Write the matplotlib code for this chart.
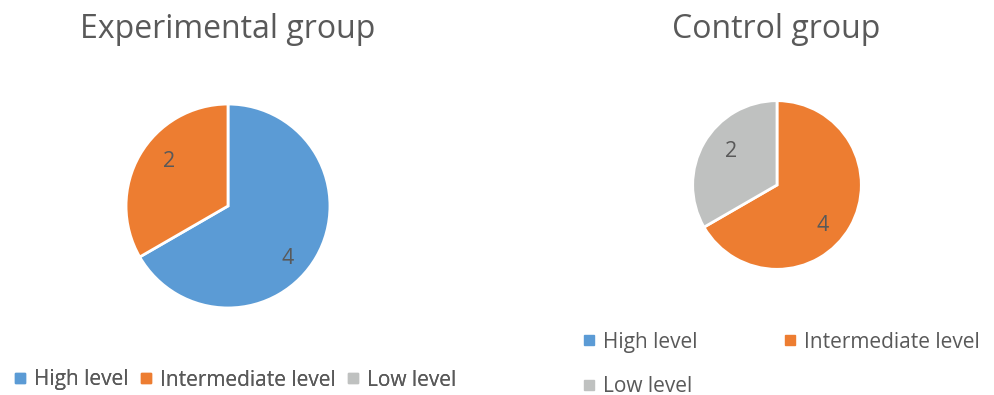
import numpy as np
import matplotlib.pyplot as plt
from matplotlib.lines import Line2D

# Datos
levels = ['High level', 'Intermediate level', 'Low level']
colors = ['#5B9BD5', '#ED7D31', '#BFC1C0']
experimental = [4, 2, 0]
control = [0, 4, 2]

TEXT = '#595959'
FONT = 'Open Sans'
plt.rcParams['font.family'] = [FONT, 'DejaVu Sans']

W, H = 994, 395
fig = plt.figure(figsize=(W / 100, H / 100), dpi=100)


def pie_axes(cx, cy, r):
    # cx, cy, r en pixeles (origen arriba a la izquierda)
    return fig.add_axes([(cx - r) / W, (H - cy - r) / H, 2 * r / W, 2 * r / H])


def draw_pie(ax, values, pctdist, shift=-9):
    vals = [v for v in values if v > 0]
    cols = [c for v, c in zip(values, colors) if v > 0]
    wedges, _, autotexts = ax.pie(
        vals, colors=cols, startangle=90, counterclock=False, radius=1,
        wedgeprops=dict(edgecolor='white', linewidth=2),
        autopct=lambda p: '%d' % round(p * sum(vals) / 100),
        pctdistance=pctdist,
        textprops=dict(color=TEXT, fontsize=15.5))
    # Excel coloca las etiquetas algo giradas respecto al centro del sector
    for w, t in zip(wedges, autotexts):
        ang = np.deg2rad((w.theta1 + w.theta2) / 2 + shift)
        t.set_position((pctdist * np.cos(ang), pctdist * np.sin(ang) - 0.04))
    ax.set_xlim(-1.02, 1.02)
    ax.set_ylim(-1.02, 1.02)
    ax.set_aspect('equal')
    ax.axis('off')


ax1 = pie_axes(228, 206, 104)
draw_pie(ax1, experimental, 0.75)
ax2 = pie_axes(777, 185, 86)
draw_pie(ax2, control, 0.70)

fig.text(228 / W, 1 - 29 / H, 'Experimental group', ha='center', va='center',
         fontsize=23, color=TEXT)
fig.text(776 / W, 1 - 29 / H, 'Control group', ha='center', va='center',
         fontsize=23, color=TEXT)

handles = [Line2D([], [], marker='s', linestyle='none', markersize=7,
                  markerfacecolor=c, markeredgecolor=c) for c in colors]

leg1 = fig.legend(handles, levels, loc='center', bbox_to_anchor=(235 / W, 1 - 380 / H),
                  ncol=3, frameon=False, fontsize=15, labelcolor=TEXT,
                  handlelength=0.55, handletextpad=0.4, columnspacing=0.55)

order = [0, 2, 1]
leg2 = fig.legend([handles[i] for i in order], [levels[i] for i in order],
                  loc='upper left', bbox_to_anchor=(569 / W, 1 - 317 / H),
                  ncol=2, frameon=False, fontsize=15, labelcolor=TEXT,
                  handlelength=0.55, handletextpad=0.4, columnspacing=4.15,
                  labelspacing=1.12, borderaxespad=0.3)
fig.add_artist(leg1)

fig.savefig('out.png', dpi=100)
